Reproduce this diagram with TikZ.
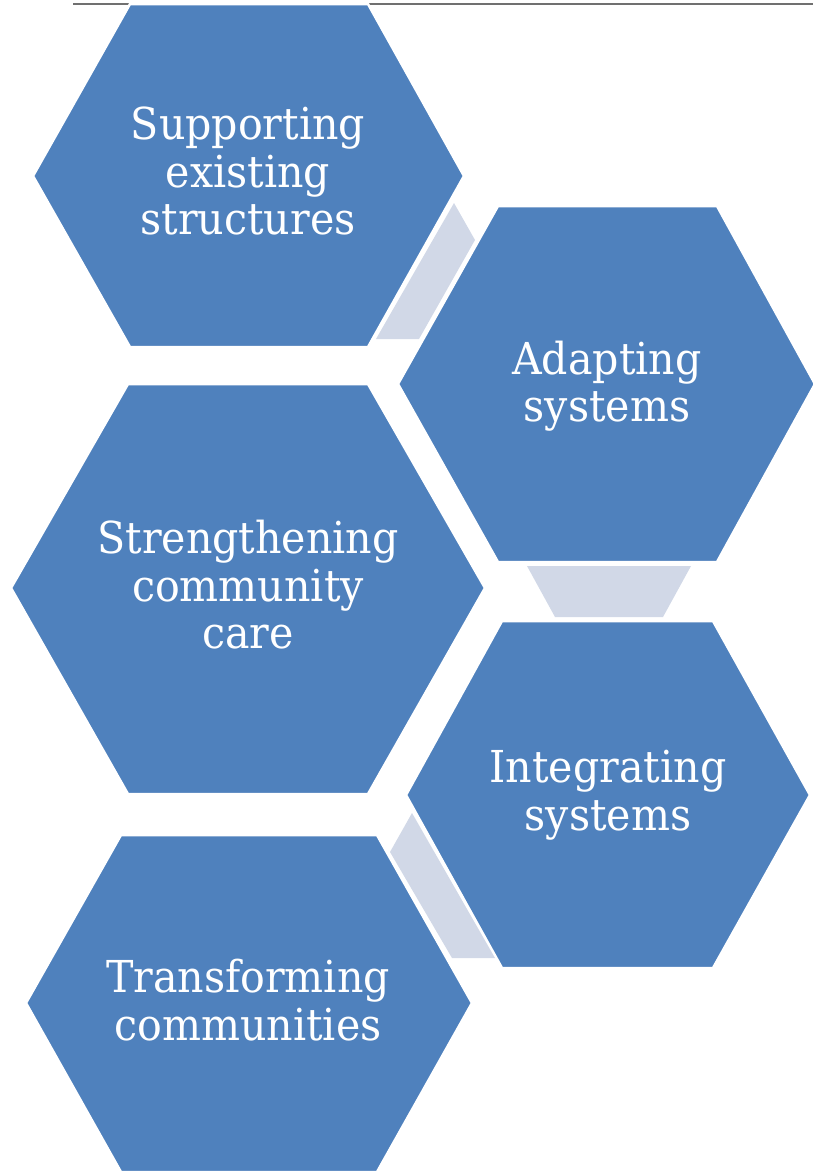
\documentclass[tikz,border=0pt]{standalone}
\usepackage{fontspec}
\setmainfont[FakeStretch=0.935]{DejaVu Serif}
\definecolor{hexblue}{HTML}{4F81BD}
\definecolor{linkgray}{HTML}{D1D8E7}
\definecolor{rulegray}{HTML}{707070}
\begin{document}
\begin{tikzpicture}[x=1pt,y=-1pt,
  hexcell/.style={fill=hexblue,draw=white,line width=2.5pt,line join=miter},
  linkcell/.style={fill=linkgray,draw=none},
  label/.style={text=white,align=center,inner sep=0pt,
    font=\fontsize{44}{47.5}\selectfont}]
\useasboundingbox (0,0) rectangle (813,1171);
\begin{scope}
\clip (0,0) rectangle (813,1171);
% rule along the top edge
\coordinate (ruleL) at (73,4);
\coordinate (ruleR) at (813,4);
\draw[rulegray,line width=2pt] (ruleL) -- (ruleR);

% hexagons
\draw[hexcell] (33,176) -- (130,4) -- (368,4) -- (464,176) -- (368,347) -- (130,347) -- cycle;
\draw[hexcell] (398,384) -- (498,206) -- (717,206) -- (815,384) -- (717,562) -- (498,562) -- cycle;
\draw[hexcell] (11,588) -- (128,384) -- (368,384) -- (485,588) -- (368,794) -- (128,794) -- cycle;
\draw[hexcell] (406,795) -- (502,621) -- (713,621) -- (810,795) -- (713,968) -- (502,968) -- cycle;
\draw[hexcell] (26,1003) -- (121,835) -- (377,835) -- (472,1003) -- (377,1172) -- (121,1172) -- cycle;

% links between consecutive hexagons
\fill[linkcell] (454,203) -- (475,240) -- (419,339) -- (376,339) -- cycle;
\fill[linkcell] (527,566) -- (691,566) -- (663,617) -- (555,617) -- cycle;
\fill[linkcell] (412,813) -- (390,852) -- (452,958) -- (495,958) -- cycle;
\end{scope}

% labels
\node[label] (supporting) at (248,171) {Supporting\\existing\\structures};
\node[label] (adapting) at (607,386) {Adapting\\systems};
\node[label] (strengthening) at (248,585) {Strengthening\\community\\care};
\node[label] (integrating) at (608,795) {Integrating\\systems};
\node[label] (transforming) at (248,1000) {Transforming\\communities};
\end{tikzpicture}
\end{document}
